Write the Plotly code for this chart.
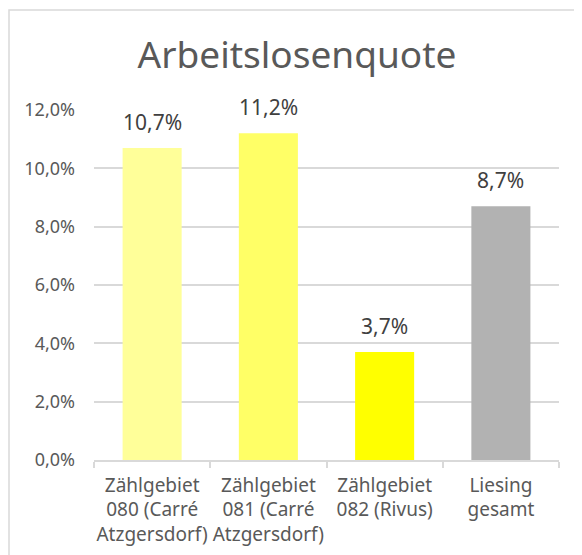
import plotly.graph_objects as go

categories = [
    "Zählgebiet<br>080 (Carré<br>Atzgersdorf)",
    "Zählgebiet<br>081 (Carré<br>Atzgersdorf)",
    "Zählgebiet<br>082 (Rivus)",
    "Liesing<br>gesamt",
]
values = [0.107, 0.112, 0.037, 0.087]
bar_colors = ["#FFFF99", "#FFFF66", "#FFFF00", "#B2B2B2"]
tick_values = [0, 0.02, 0.04, 0.06, 0.08, 0.10, 0.12]

font_family = "Noto Sans"
text_color = "#595959"
grid_color = "#D9D9D9"

fig = go.Figure()
fig.add_trace(go.Bar(
    x=categories,
    y=values,
    marker=dict(color=bar_colors, line=dict(width=0)),
    hoverinfo="skip",
))

# value labels above the bars
for cat, v in zip(categories, values):
    fig.add_annotation(
        x=cat, y=v,
        text=f"{v * 100:.1f}%".replace(".", ","),
        showarrow=False,
        yanchor="bottom",
        yshift=10,
        font=dict(size=21, color="#404040", family=font_family),
    )

# chart border (cropped on the right and bottom)
fig.add_shape(
    type="rect", xref="paper", yref="paper",
    x0=-0.1828, x1=1.2, y0=-0.4, y1=1.2857,
    line=dict(color=grid_color, width=1.5),
    fillcolor="rgba(0,0,0,0)",
    layer="below",
)

fig.update_layout(
    width=582,
    height=555,
    margin=dict(l=86, r=31, t=102, b=103),
    paper_bgcolor="white",
    plot_bgcolor="white",
    separators=",.",
    bargap=0.492,
    showlegend=False,
    font=dict(family=font_family, color=text_color),
    title=dict(
        text="Arbeitslosenquote",
        font=dict(size=37, color=text_color, family=font_family),
        x=0.4366, xref="paper", xanchor="center",
        y=1 - 47 / 555, yref="container", yanchor="middle",
    ),
    xaxis=dict(
        showgrid=False,
        showline=True,
        linecolor=grid_color,
        linewidth=1.5,
        ticks="outside",
        tickson="boundaries",
        ticklen=6,
        tickcolor=grid_color,
        tickwidth=1.5,
        tickangle=0,
        automargin=False,
        ticklabelstandoff=7,
        tickfont=dict(size=19, color=text_color),
        fixedrange=True,
    ),
    yaxis=dict(
        range=[0, 0.12],
        tickvals=tick_values,
        tickformat=".1%",
        showgrid=True,
        gridcolor=grid_color,
        gridwidth=1.5,
        zeroline=False,
        showline=False,
        ticks="",
        automargin=False,
        ticklabelstandoff=18,
        tickfont=dict(size=18, color=text_color),
        fixedrange=True,
    ),
)

fig.write_html("out.html")
